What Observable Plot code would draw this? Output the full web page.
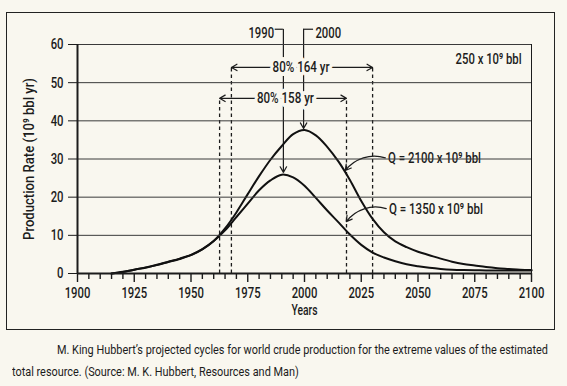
<!DOCTYPE html>
<html><head><meta charset="utf-8">
<script src="https://cdn.jsdelivr.net/npm/d3@7"></script>
<script src="https://cdn.jsdelivr.net/npm/@observablehq/plot@0.6"></script>
<style>
  body{margin:0;background:#f9f7ef;width:567px;height:386px;overflow:hidden;position:relative;
       font-family:Roboto,"Liberation Sans",Arial,sans-serif;color:#1c1c1c}
  #frame{position:absolute;left:6px;top:12px;width:547px;height:316px;border:1.5px solid #222;}
  #chart{position:absolute;left:0;top:0}
  #caption{position:absolute;left:12px;top:338px;font-size:13.5px;line-height:22px;white-space:nowrap}
  #caption div{transform-origin:0 50%;display:inline-block}
  #caption .l1{margin-left:45px}
</style></head>
<body>
<div id="frame"></div>
<div id="chart"></div>
<div id="caption"><div class="l1">M. King Hubbert’s projected cycles for world crude production for the extreme values of the estimated</div><br><div class="l2">total resource. (Source: M. K. Hubbert, Resources and Man)</div></div>
<script>
// ---- data ----
const years = [1915,1920,1925,1930,1935,1940,1945,1950,1955,1960,
               1965,1970,1975,1980,1985,1990,1995,2000,2005,2010,
               2015,2020,2025,2030,2035,2040,2045,2050,2055,2060,
               2065,2070,2075,2080,2085,2090,2095,2100];
const q2100 = [0,0.4,1.0,1.5,2.2,3.0,3.8,4.8,6.3,8.5,
               11.8,16.0,20.8,25.5,29.8,33.4,36.5,37.6,36.2,33.2,
               29.3,24.5,19.0,14.3,10.8,8.4,6.9,5.7,4.8,3.9,
               3.1,2.5,2.1,1.7,1.4,1.2,1.0,0.9];
const q1350 = [0,0.45,1.0,1.6,2.3,3.1,3.9,4.9,6.4,8.5,
               11.3,14.8,18.3,21.8,24.4,25.9,25.2,23.0,19.8,16.5,
               13.4,10.2,7.5,5.5,4.2,3.2,2.4,1.9,1.5,1.2,
               1.0,0.9,0.85,0.8,0.8,0.8,0.8,0.8];

const yTicks = [0,10,20,30,40,50,60];
const majorYears = [1900,1925,1950,1975,2000,2025,2050,2075,2100];
const minorYears = [1905,1910,1915,1920,1930,1935,1940,1945,1955,1960,1965,1970,
                    1980,1985,1990,1995,2005,2010,2015,2020,2030,2035,2040,2045,
                    2055,2060,2065,2070,2080,2085,2090,2095];

// 80% spans
const spanLabels = ["80% 164 yr","80% 158 yr"];
const spanStart  = [1967.8, 1962.6];
const spanEnd    = [2030.0, 2018.5];
const spanLevel  = [54.0, 45.9];
const spanCenter = [1998.5, 1991.6];

// peak markers
const peakLabels = ["1990","2000"];
const peakYear   = [1990.7, 1999.6];
const peakValue  = [26.5, 38.0];
const peakLabelX = [1986.6, 2004.8];
const peakHookX  = [1987.1, 2004.0];
const peakLabelY = 62.9, peakHookY = 64.0;

// resource labels
const qLabels = ["Q = 2100 x 10⁹ bbl","Q = 1350 x 10⁹ bbl"];
const qTextX  = [2036.8, 2037.2];
const qTextY  = [30.2, 17.0];
const qArrowX1 = [2035.6, 2036.0];
const qArrowY1 = [30.3, 17.0];
const qArrowX2 = [2018.0, 2018.4];
const qArrowY2 = [27.0, 13.6];

const topLabel = "250 x 10⁹ bbl";
const yTitle = "Production Rate (10⁹ bbl yr)";
const xTitle = "Years";

// ---- tables ----
const series = [
  ...years.map((y,i)=>({year:y, v:q2100[i], s:"2100"})),
  ...years.map((y,i)=>({year:y, v:q1350[i], s:"1350"}))
];
const spans = spanLabels.map((t,i)=>({t, a:spanStart[i], b:spanEnd[i], y:spanLevel[i], c:spanCenter[i]}));
const peaks = peakLabels.map((t,i)=>({t, x:peakYear[i], v:peakValue[i], lx:peakLabelX[i], hx:peakHookX[i]}));
const qs = qLabels.map((t,i)=>({t, x:qTextX[i], y:qTextY[i], x1:qArrowX1[i], y1:qArrowY1[i], x2:qArrowX2[i], y2:qArrowY2[i]}));

const bg = "#f9f7ef";
const ff = 'Roboto,"Liberation Sans",Arial,sans-serif';
const fs = 15.5;

const chart = Plot.plot({
  width: 567, height: 336,
  marginLeft: 77, marginRight: 36, marginTop: 44, marginBottom: 63,
  x: {domain: [1900, 2100]},
  y: {domain: [0, 60]},
  style: {background: "transparent", fontFamily: ff, fontSize: fs + "px", fontWeight: 500, color: "#1c1c1c", overflow: "visible"},
  marks: [
    Plot.axisY(yTicks, {tickSize: 9, tickPadding: 5, label: null, fontSize: fs, fontWeight: 500}),
    Plot.axisX(majorYears, {tickSize: 9, tickPadding: 4, label: null, fontSize: fs, fontWeight: 500, tickFormat: d => String(d), strokeWidth: 1.4}),
    Plot.axisX(minorYears, {tickSize: 6, tickFormat: () => "", label: null, strokeWidth: 1.4}),
    Plot.ruleX(spans, {x: "a", y1: 0, y2: "y", strokeDasharray: "3.5,3", strokeWidth: 1.3}),
    Plot.ruleX(spans, {x: "b", y1: 0, y2: "y", strokeDasharray: "3.5,3", strokeWidth: 1.3}),
    Plot.arrow(spans, {x1: "c", x2: "a", y1: "y", y2: "y", strokeWidth: 1.2, headLength: 8}),
    Plot.arrow(spans, {x1: "c", x2: "b", y1: "y", y2: "y", strokeWidth: 1.2, headLength: 8}),
    Plot.arrow(peaks, {x1: "x", x2: "x", y1: peakHookY, y2: "v", strokeWidth: 1.2, headLength: 8}),
    Plot.ruleY(peaks, {y: peakHookY, x1: "hx", x2: "x", strokeWidth: 1.2}),
    Plot.line(series, {x: "year", y: "v", z: "s", curve: "catmull-rom", strokeWidth: 2, stroke: "#111"}),
    Plot.text(spans, {x: "c", y: "y", text: "t", fontSize: fs, fontWeight: 500, stroke: bg, strokeWidth: 8, fill: "#1c1c1c"}),
    Plot.text(peaks.slice(0,1), {x: "lx", y: peakLabelY, text: "t", textAnchor: "end", fontSize: fs, fontWeight: 500}),
    Plot.text(peaks.slice(1), {x: "lx", y: peakLabelY, text: "t", textAnchor: "start", fontSize: fs, fontWeight: 500}),
    Plot.arrow(qs, {x1: "x1", y1: "y1", x2: "x2", y2: "y2", bend: -35, strokeWidth: 1.2, headLength: 8}),
    Plot.text(qs, {x: "x", y: "y", text: "t", textAnchor: "start", fontSize: fs, fontWeight: 500}),
    Plot.text([topLabel], {x: 2095.6, y: 56.3, text: d => d, textAnchor: "end", fontSize: fs, fontWeight: 500}),
    Plot.gridY(yTicks.slice(1), {stroke: "#3a3a3a", strokeOpacity: 1, strokeWidth: 1}),
    Plot.ruleX([2100], {y1: 0, y2: 60, strokeWidth: 1}),
    Plot.ruleX([1900], {y1: 0, y2: 60, strokeWidth: 2}),
    Plot.ruleY([0], {x1: 1900, x2: 2100, strokeWidth: 2}),
    Plot.text([yTitle], {frameAnchor: "left", textAnchor: "middle", rotate: -90, dx: -48, text: d => d, fontSize: fs, fontWeight: 500}),
    Plot.text([xTitle], {frameAnchor: "bottom", dy: 41, text: d => d, fontSize: fs, fontWeight: 500})
  ]
});
document.getElementById("chart").appendChild(chart);

// condense SVG text horizontally to mimic the condensed typeface
const widths = {
  "80% 164 yr": 57, "80% 158 yr": 57, "250 x 10⁹ bbl": 66,
  "Q = 2100 x 10⁹ bbl": 93, "Q = 1350 x 10⁹ bbl": 94,
  "Production Rate (10⁹ bbl yr)": 162, "Years": 26
};
chart.querySelectorAll("text").forEach(el => {
  const w = widths[el.textContent];
  const k = w ? w / el.getComputedTextLength() : 0.73;
  const t = el.getAttribute("transform");
  if (t) el.setAttribute("transform", t + ` scale(${k},1)`);
  else {
    const x = +el.getAttribute("x") || 0;
    el.setAttribute("transform", `translate(${x},0) scale(${k},1) translate(${-x},0)`);
  }
});
// caption: condense to the reference width
const l1 = document.querySelector("#caption .l1"), l2 = document.querySelector("#caption .l2");
const s = 491 / l1.getBoundingClientRect().width;
l1.style.transform = `scaleX(${s})`;
l2.style.transform = `scaleX(${s})`;
</script>
</body></html>
